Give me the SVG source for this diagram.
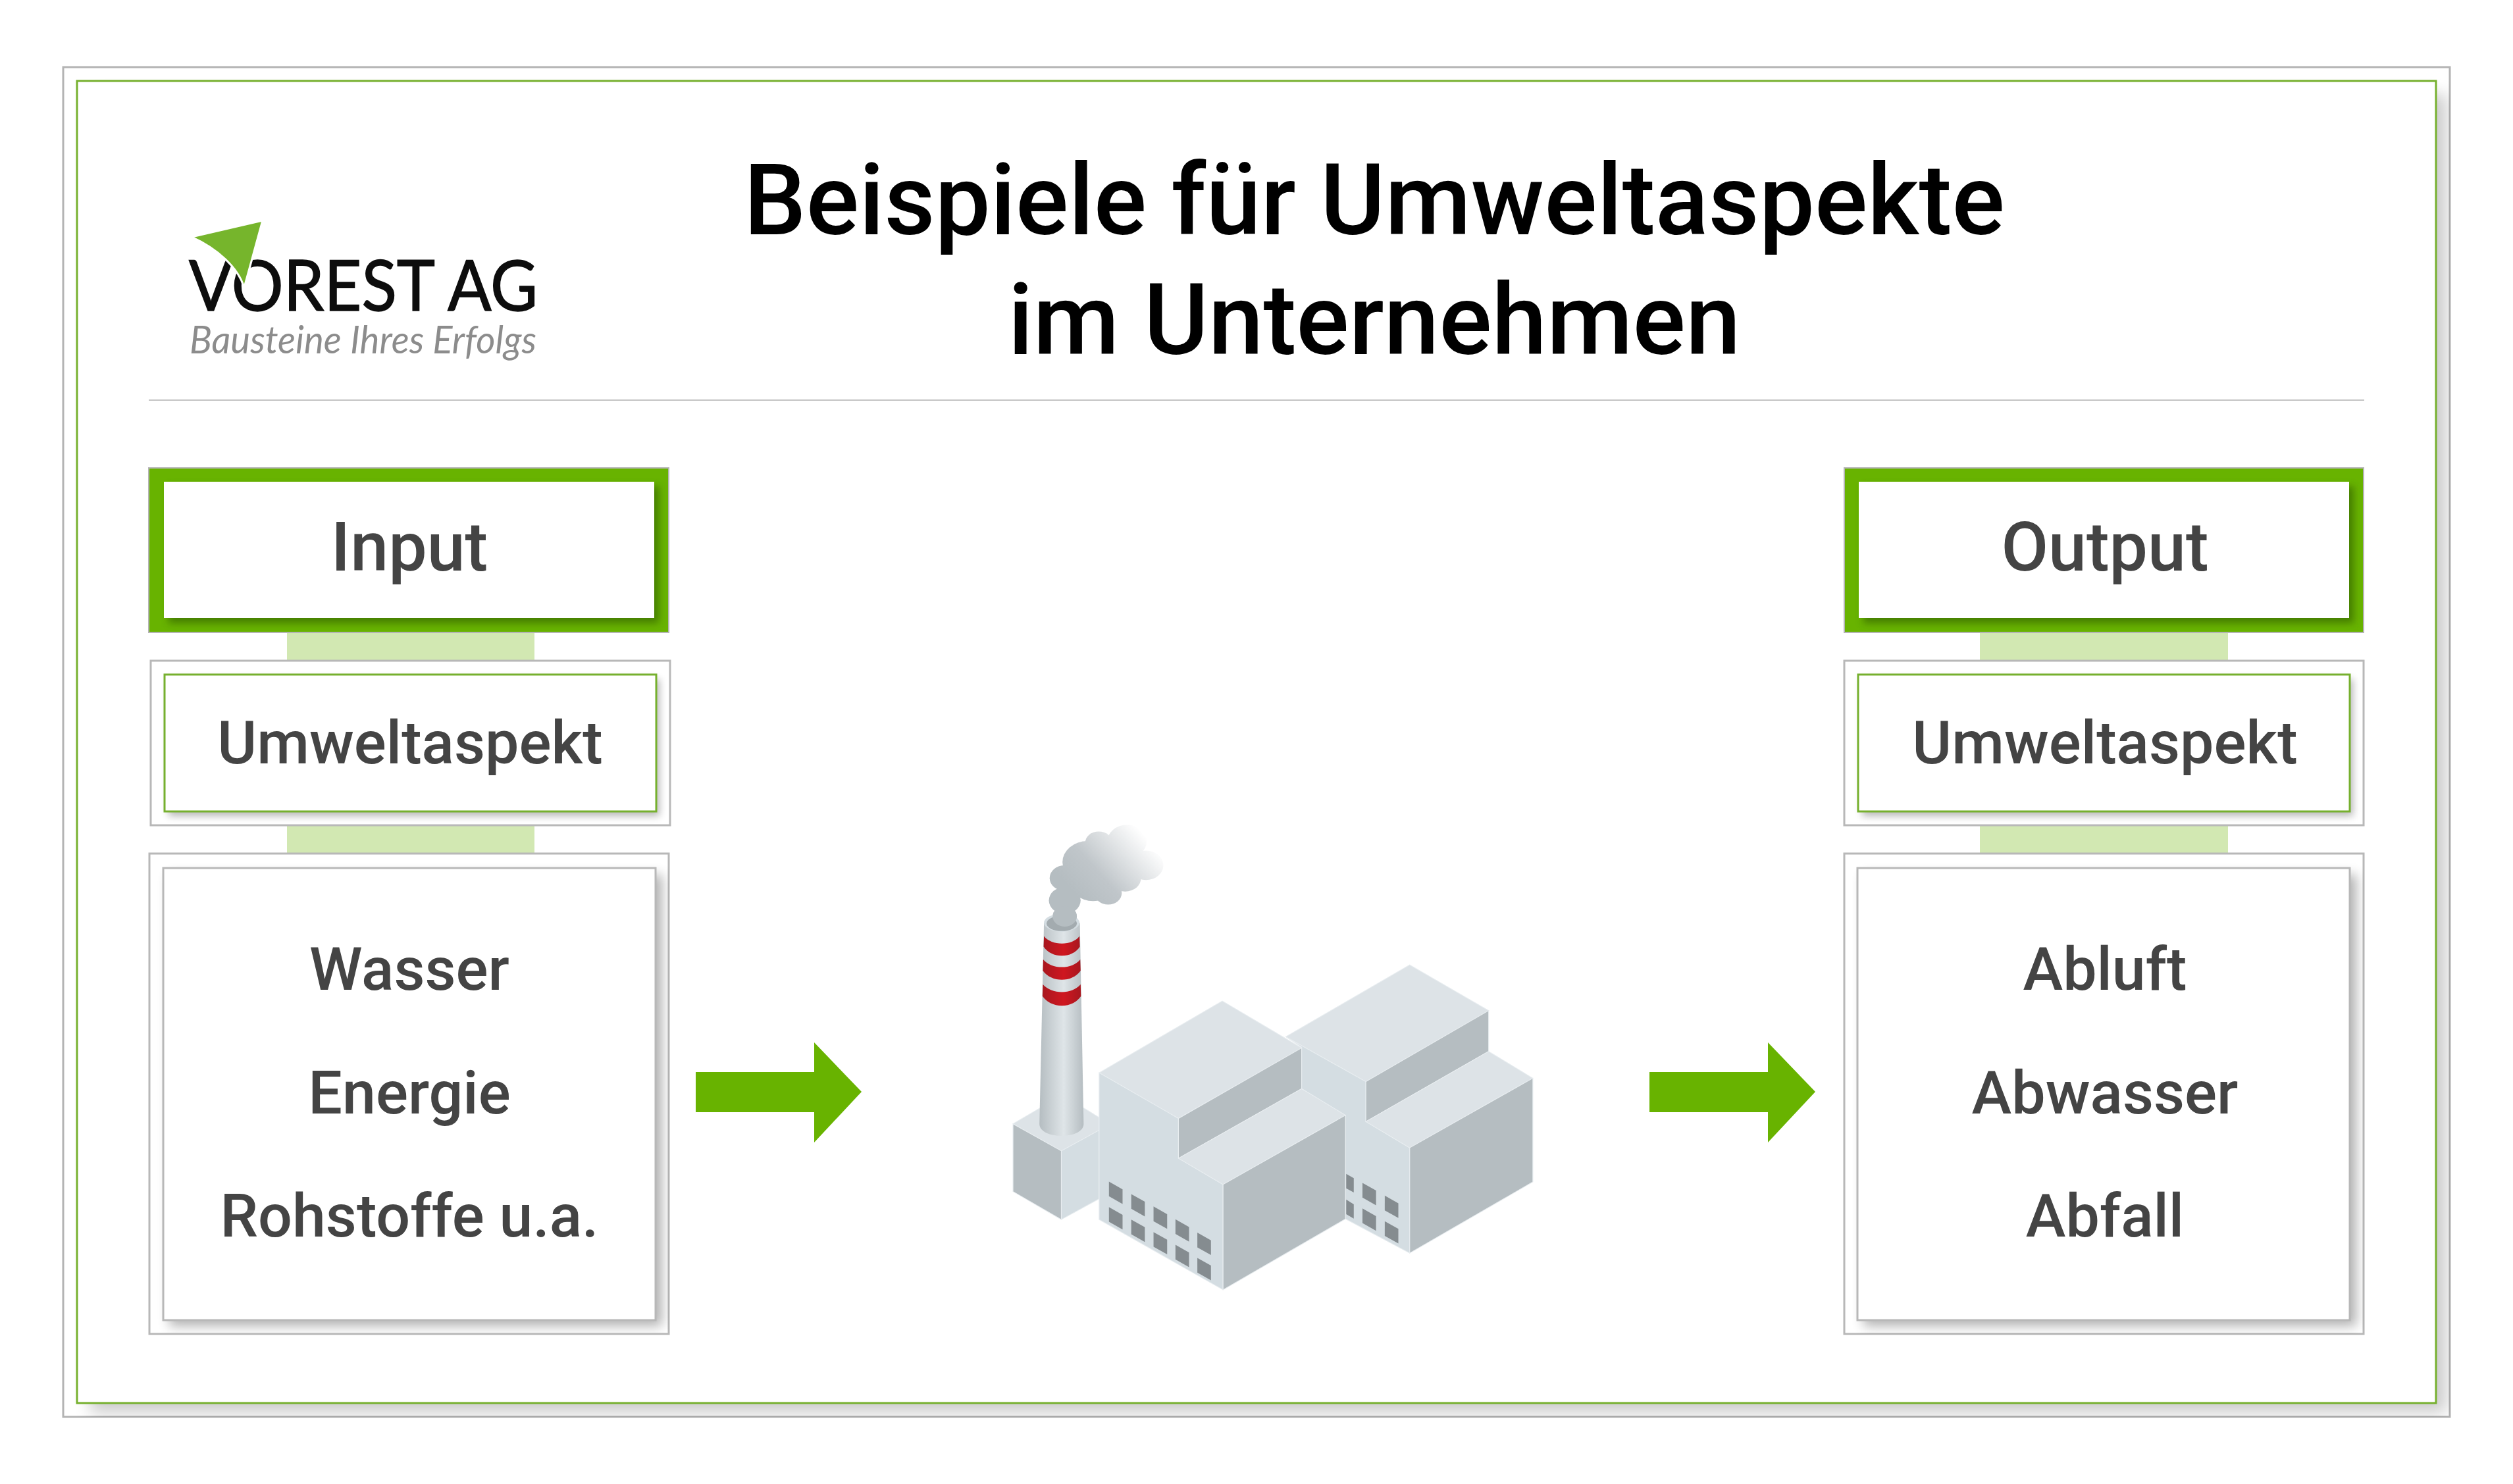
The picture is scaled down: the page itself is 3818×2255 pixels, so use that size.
<svg xmlns="http://www.w3.org/2000/svg" width="3818" height="2255" viewBox="0 0 3818 2255">
<style>
text{font-family:Roboto,"Liberation Sans",sans-serif;font-weight:500;fill:#444;text-anchor:middle}
.title{fill:#000;font-size:150px}
.head{font-size:104px}
.sub{font-size:91.5px}
.item{font-size:91.5px}
.frame{fill:#fff;stroke:#b4b4b4;stroke-width:3}
.link{fill:#d2e8b2}
.card{fill:#fff;stroke:#b8b8b8;stroke-width:3}
.cardg{fill:#fff;stroke:#76b02e;stroke-width:3}
.cardp{fill:#fff;stroke:#b8b8b8;stroke-width:3}
.hd{fill:#68b300;stroke:#b4b4b4;stroke-width:2}
.hdi{fill:#fff}
.arrow{fill:#68b300}
.sg{fill:#2f5a00;opacity:.6;filter:url(#blur6)}
.s2{fill:#000;opacity:.28;filter:url(#blur6)}
.s3{fill:#000;opacity:.3;filter:url(#blur9)}
.lt{fill:#d4dde2;stroke:#e8edf0;stroke-width:2}.tp{fill:#dde3e7;stroke:#e8edf0;stroke-width:2}.dk{fill:#b5bdc1;stroke:#e8edf0;stroke-width:2}
.win{fill:#858c90}
.logo{font-family:Lato,"Liberation Sans",sans-serif;text-anchor:start}
</style>
<defs>
<filter id="blur6" x="-5%" y="-10%" width="110%" height="120%"><feGaussianBlur stdDeviation="6"/></filter>
<filter id="blur9" x="-5%" y="-5%" width="110%" height="110%"><feGaussianBlur stdDeviation="9"/></filter>
<filter id="blur12" x="-5%" y="-5%" width="110%" height="110%"><feGaussianBlur stdDeviation="12"/></filter>
<clipPath id="cOuter"><rect x="96" y="102" width="3626" height="2051"/></clipPath>
<clipPath id="cl1"><rect x="226" y="711" width="790" height="250"/></clipPath>
<clipPath id="cl2"><rect x="229" y="1004" width="789" height="250"/></clipPath>
<clipPath id="cl3"><rect x="227" y="1297" width="789" height="729"/></clipPath>
<clipPath id="cr1"><rect x="2802" y="711" width="789" height="250"/></clipPath>
<clipPath id="cr2"><rect x="2802" y="1004" width="789" height="250"/></clipPath>
<clipPath id="cr3"><rect x="2802" y="1297" width="789" height="730"/></clipPath>
<linearGradient id="chim" x1="0" x2="1" y1="0" y2="0"><stop offset="0" stop-color="#b5bdc1"/><stop offset=".55" stop-color="#dfe5e8"/><stop offset="1" stop-color="#b5bdc1"/></linearGradient>
<linearGradient id="red" x1="0" x2="1" y1="0" y2="0"><stop offset="0" stop-color="#a8171f"/><stop offset=".55" stop-color="#cf1720"/><stop offset="1" stop-color="#a8171f"/></linearGradient>
<linearGradient id="smoke" gradientUnits="userSpaceOnUse" x1="215" y1="240" x2="420" y2="85"><stop offset="0" stop-color="#b5bdc1"/><stop offset=".35" stop-color="#c0c6ca"/><stop offset="1" stop-color="#fff"/></linearGradient>
<path id="w" class="win" d="M0,0L36,24V70L0,46Z"/>
</defs>
<rect width="3818" height="2255" fill="#fff"/>

<g id="frame">
<rect class="frame" x="96" y="102" width="3626" height="2051"/>
<g clip-path="url(#cOuter)"><rect x="137" y="143" width="3580" height="2004" fill="#000" opacity=".2" filter="url(#blur12)"/></g>
<rect x="117" y="123" width="3584" height="2009" fill="#fff" stroke="#76b02e" stroke-width="3"/>
</g>

<line id="rule" x1="226" y1="608" x2="3592" y2="608" stroke="#c4c4c4" stroke-width="2"/>

<g id="title">
<text class="title" x="2088" y="356">Beispiele für Umweltaspekte</text>
<text class="title" x="2088" y="538">im Unternehmen</text>
</g>

<g id="logo">
<text class="logo" x="287" y="472" textLength="530" lengthAdjust="spacingAndGlyphs" stroke="#0d0d0d" stroke-width="1.5" style="font-weight:400;fill:#0d0d0d;font-size:106px">VOREST AG</text>
<path d="M291,360L399,335L371,437C362,407 331,378 291,360Z" fill="#76b52c" stroke="#fff" stroke-width="3"/>
<text class="logo" x="288" y="537" textLength="527" lengthAdjust="spacingAndGlyphs" style="font-weight:400;font-style:italic;fill:#8c8c8c;font-size:59px">Bausteine Ihres Erfolgs</text>
</g>

<g id="connectors">
<rect class="link" x="436" y="961" width="376" height="43"/>
<rect class="link" x="436" y="1254" width="376" height="43"/>
<rect class="link" x="3008" y="961" width="377" height="43"/>
<rect class="link" x="3008" y="1254" width="377" height="43"/>
<path id="arrow-in" class="arrow" d="M1057,1629H1237V1584L1309,1659L1237,1736V1690H1057Z"/>
<path id="arrow-out" class="arrow" d="M2506,1629H2686V1584L2758,1659L2686,1736V1690H2506Z"/>
</g>

<g id="input-head">
<rect class="hd" x="226" y="711" width="790" height="250"/>
<g clip-path="url(#cl1)"><rect class="sg" x="256" y="739" width="745" height="208"/></g>
<rect class="hdi" x="249" y="732" width="745" height="207"/>
<text class="head" x="622" y="867">Input</text>
</g>
<g id="input-aspect">
<rect class="card" x="229" y="1004" width="789" height="250"/>
<g clip-path="url(#cl2)"><rect class="s2" x="256" y="1032" width="746" height="208"/></g>
<rect class="cardg" x="250" y="1025" width="747" height="208"/>
<text class="sub" x="623" y="1160">Umweltaspekt</text>
</g>
<g id="input-list">
<rect class="card" x="227" y="1297" width="789" height="730"/>
<g clip-path="url(#cl3)"><rect class="s3" x="257" y="1329" width="749" height="686"/></g>
<rect class="cardp" x="248" y="1319" width="748" height="687"/>
<text class="item" x="622" y="1504">Wasser</text>
<text class="item" x="622" y="1692">Energie</text>
<text class="item" x="622" y="1879">Rohstoffe u.a.</text>
</g>

<g id="output-head">
<rect class="hd" x="2802" y="711" width="789" height="250"/>
<g clip-path="url(#cr1)"><rect class="sg" x="2831" y="739" width="745" height="208"/></g>
<rect class="hdi" x="2824" y="732" width="745" height="207"/>
<text class="head" x="3198" y="867">Output</text>
</g>
<g id="output-aspect">
<rect class="card" x="2802" y="1004" width="789" height="250"/>
<g clip-path="url(#cr2)"><rect class="s2" x="2829" y="1032" width="746" height="208"/></g>
<rect class="cardg" x="2823" y="1025" width="747" height="208"/>
<text class="sub" x="3198" y="1160">Umweltaspekt</text>
</g>
<g id="output-list">
<rect class="card" x="2802" y="1297" width="789" height="730"/>
<g clip-path="url(#cr3)"><rect class="s3" x="2831" y="1329" width="749" height="686"/></g>
<rect class="cardp" x="2822" y="1319" width="748" height="687"/>
<text class="item" x="3198" y="1504">Abluft</text>
<text class="item" x="3198" y="1692">Abwasser</text>
<text class="item" x="3198" y="1879">Abfall</text>
</g>

<g id="factory" transform="translate(1500,1230) scale(.574,.485)">
<g id="smokeplume" fill="url(#smoke)">
<circle cx="205" cy="335" r="32"/><circle cx="205" cy="285" r="42"/><circle cx="205" cy="215" r="40"/><circle cx="265" cy="165" r="66"/><circle cx="295" cy="105" r="36"/><circle cx="370" cy="100" r="52"/><circle cx="420" cy="175" r="46"/><circle cx="365" cy="215" r="42"/><circle cx="320" cy="262" r="36"/><circle cx="280" cy="225" r="62"/><circle cx="345" cy="150" r="70"/>
</g>
<path class="tp" d="M68,985L140,935H255L296,965V1005L196,1070Z"/>
<path class="dk" d="M68,985L196,1070V1285L68,1197Z"/>
<path class="lt" d="M196,1070L296,1005V1220L196,1285Z"/>
<path fill="url(#chim)" d="M150,355H245L255,985C255,1035 138,1035 138,985Z"/>
<ellipse cx="197" cy="355" rx="47" ry="28" fill="#d4dde2"/>
<ellipse cx="197" cy="357" rx="40" ry="24" fill="#a3abaf"/>
<path d="M150,397C170,428 225,428 244,397L245,430C225,468 170,468 149,430Z" fill="url(#red)"/>
<path d="M148,470C170,502 225,502 246,470L247,505C225,543 170,543 147,505Z" fill="url(#red)"/>
<path d="M147,548C170,580 225,580 247,548L248,585C225,625 170,625 146,585Z" fill="url(#red)"/>
<circle cx="205" cy="335" r="32" fill="#b5bdc1"/>
<g id="back-building">
<path class="tp" d="M790,712L1118,487L1327,630L1002,853Z"/>
<path class="lt" d="M790,712L1002,853V978L1118,1060V1390L948,1283V958L832,875V745Z"/>
<path class="dk" d="M1002,853L1327,630V758L1002,978Z"/>
<path class="tp" d="M1002,978L1327,758L1444,842L1118,1060Z"/>
<path class="dk" d="M1118,1060L1444,842V1167L1118,1390Z"/>
<use href="#w" x="993" y="1170"/><use href="#w" x="993" y="1250"/><use href="#w" x="1052" y="1210"/><use href="#w" x="1052" y="1290"/>
<path class="win" d="M950,1142L970,1155V1200L950,1187Z"/><path class="win" d="M950,1222L970,1237V1282L950,1268Z"/>
</g>
<g id="front-building">
<path class="tp" d="M296,825L622,600L832,747L506,968Z"/>
<path class="lt" d="M296,825L506,968V1093L624,1175V1505L296,1285Z"/>
<path class="dk" d="M506,968L832,747V875L506,1093Z"/>
<path class="tp" d="M506,1093L832,875L948,958L624,1175Z"/>
<path class="dk" d="M624,1175L948,958V1283L624,1505Z"/>
<use href="#w" x="322" y="1166"/><use href="#w" x="381" y="1205"/><use href="#w" x="440" y="1244"/><use href="#w" x="498" y="1284"/><use href="#w" x="556" y="1326"/>
<use href="#w" x="322" y="1246"/><use href="#w" x="381" y="1285"/><use href="#w" x="440" y="1324"/><use href="#w" x="498" y="1364"/><use href="#w" x="556" y="1405"/>
</g>
</g>
</svg>
